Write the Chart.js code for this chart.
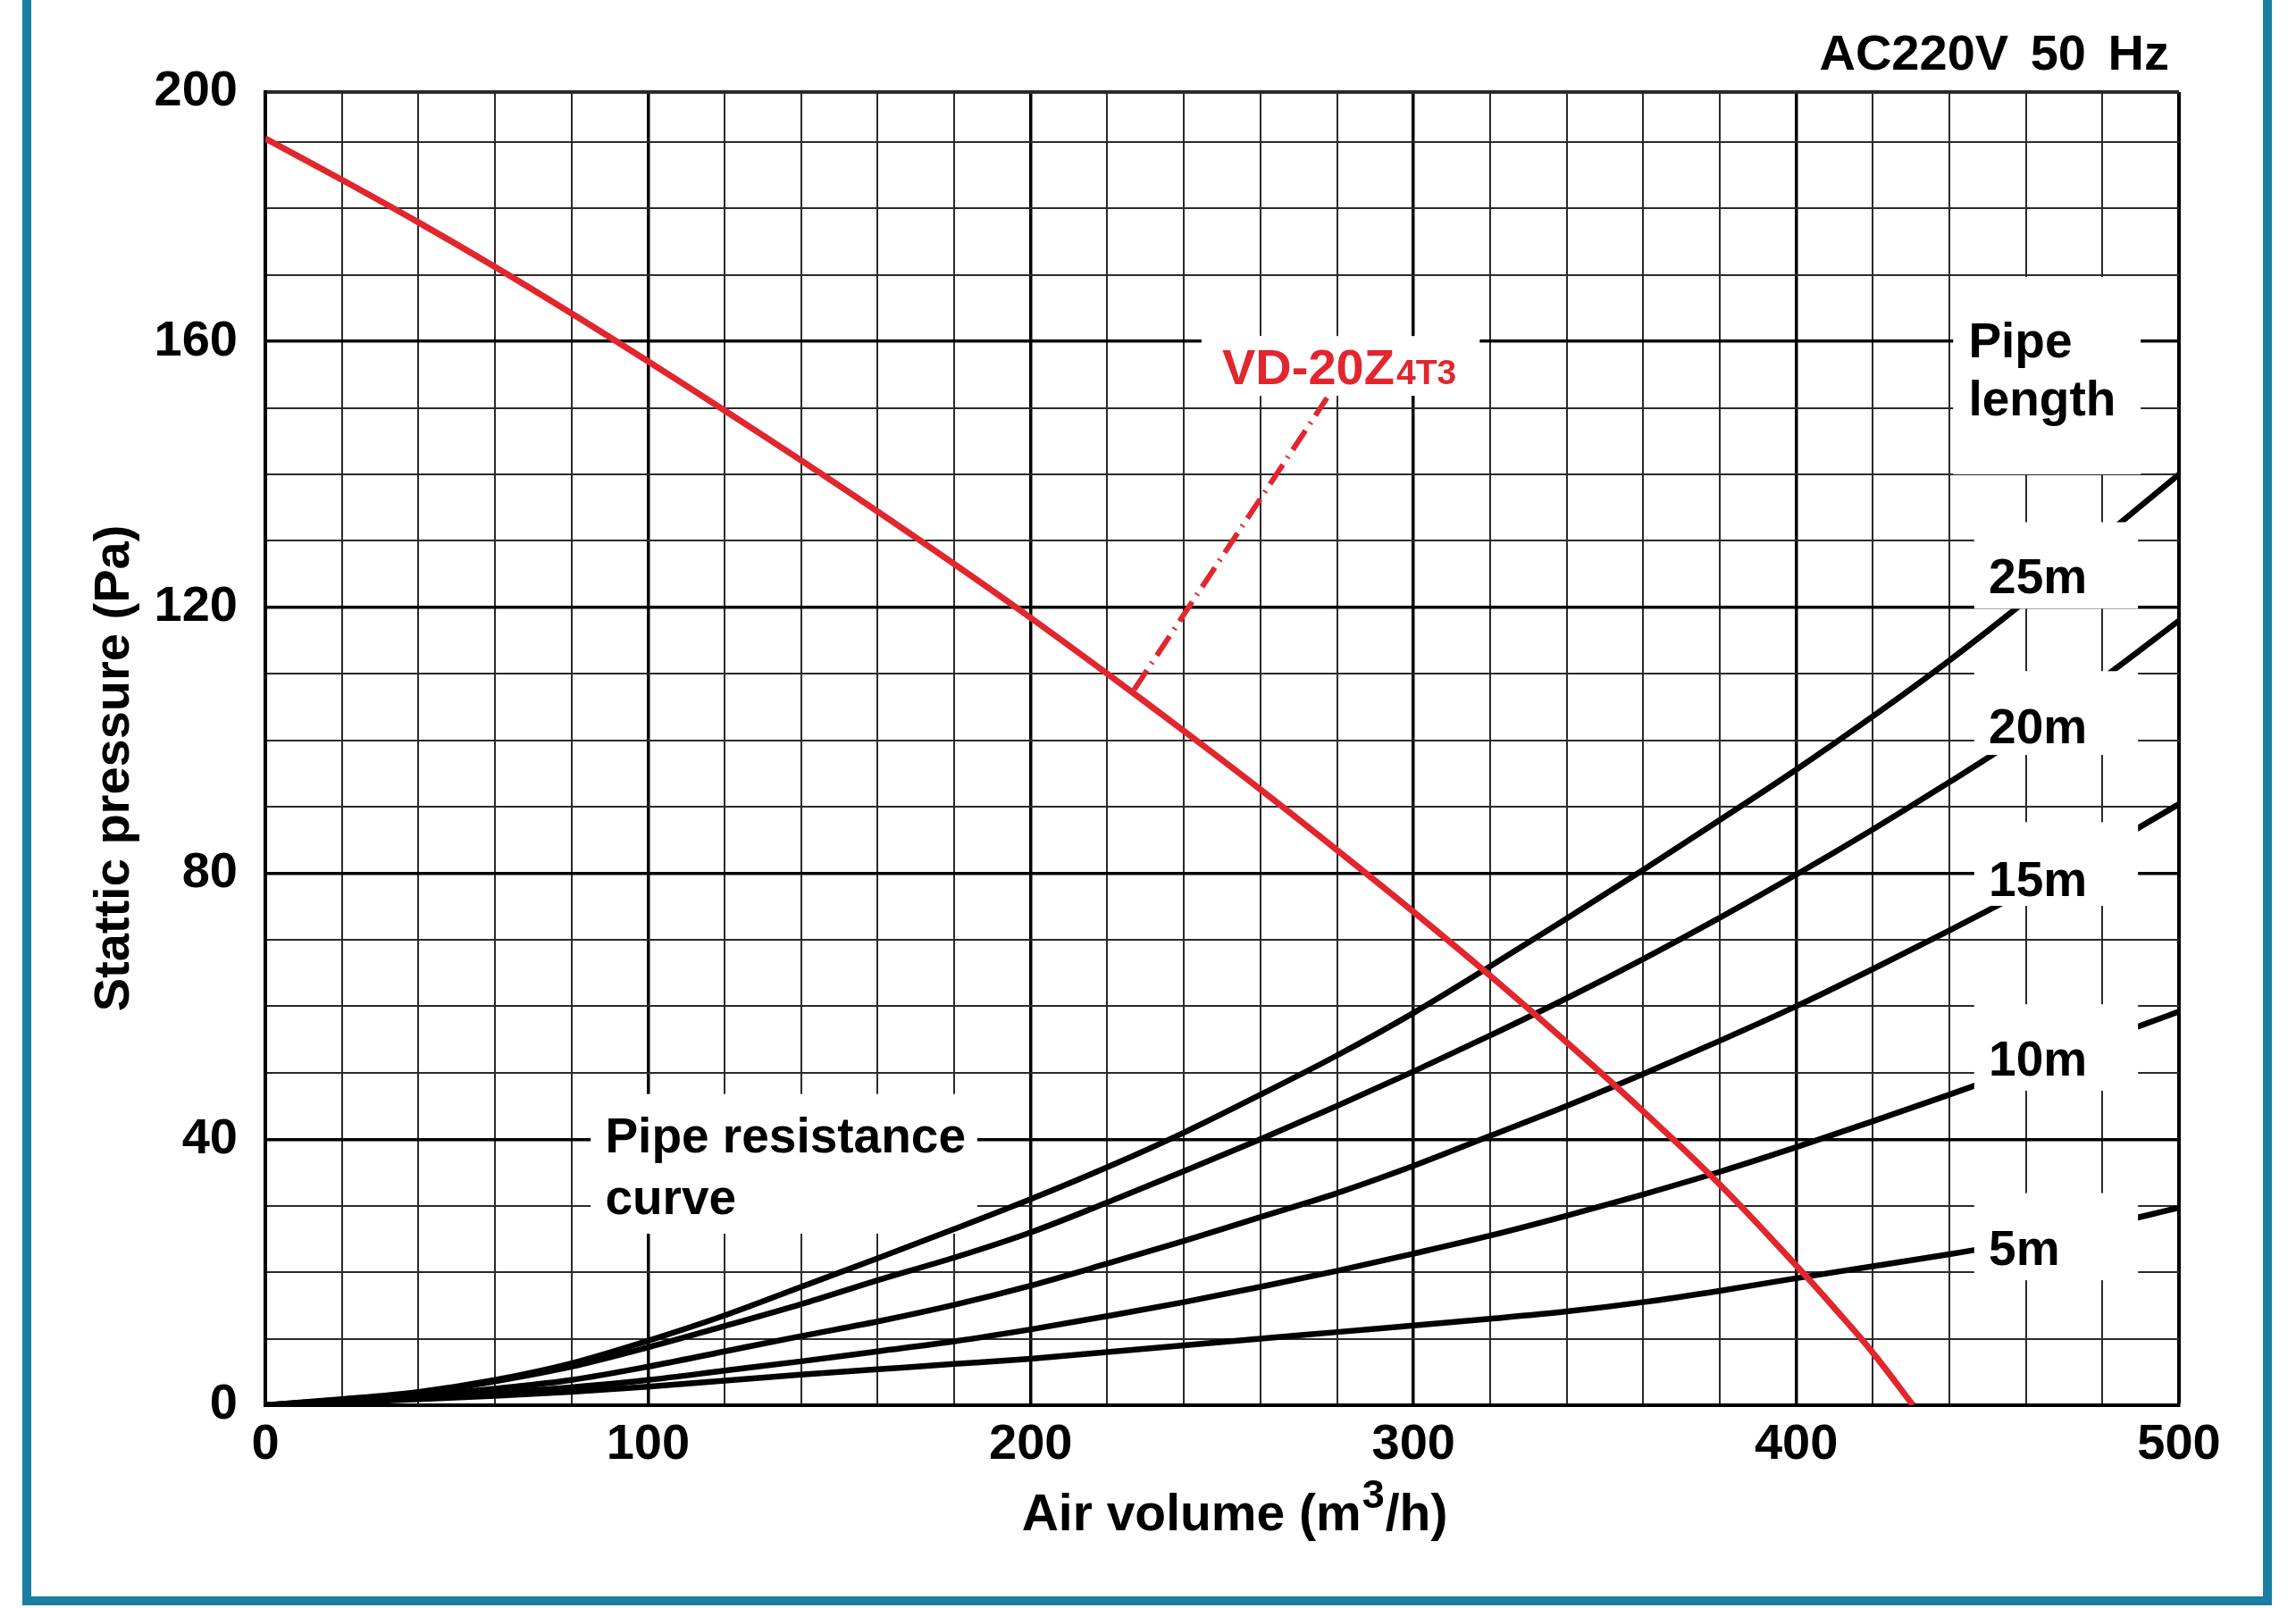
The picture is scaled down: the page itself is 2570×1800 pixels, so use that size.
<!DOCTYPE html>
<html lang="en">
<head>
<meta charset="UTF-8">
<title>VD-20Z4T3 static pressure curve</title>
<script src="https://cdn.jsdelivr.net/npm/chart.js"></script>
<style>
    html, body { margin: 0; padding: 0; background: #fff; }
    #wrap { position: relative; width: 2570px; height: 1800px; }
</style>
</head>
<body>
<div id="wrap"><canvas id="pqChart" width="2570" height="1800"></canvas></div>
<script>
    // air volume (m3/h) shared by the pipe resistance curves
    const airVolume = [0, 20, 40, 60, 80, 100, 120, 140, 160, 180, 200, 220, 240, 260, 280, 300, 320, 340, 360, 380, 400, 420, 440, 460, 480, 500];
    const pipe25m = [0, 0.9, 2, 3.8, 6.3, 9.7, 13.5, 17.8, 22.1, 26.5, 31, 35.8, 41, 46.7, 52.6, 59, 66, 73.2, 80.5, 88, 95.6, 103.6, 112, 121, 130.5, 140];
    const pipe20m = [0, 0.8, 1.8, 3.6, 5.8, 8.7, 11.9, 15.2, 18.8, 22.2, 26, 30.5, 35.2, 40, 45, 50.2, 55.6, 61.2, 67.1, 73.3, 79.8, 86.6, 93.7, 101.1, 109.3, 118];
    const pipe15m = [0, 0.6, 1.4, 2.5, 3.8, 5.8, 8.1, 10.4, 12.6, 15.1, 18, 21.3, 24.7, 28.3, 31.9, 36, 40.5, 45, 49.8, 54.8, 60, 65.6, 71.4, 77.4, 83.7, 90.4];
    const pipe10m = [0, 0.5, 1.1, 1.8, 2.7, 3.8, 5.2, 6.6, 8.1, 9.6, 11.4, 13.4, 15.5, 17.8, 20.2, 22.8, 25.5, 28.5, 31.7, 35.1, 38.8, 42.7, 46.7, 50.8, 55, 59.2];
    const pipe5m = [0, 0.4, 0.9, 1.4, 2, 2.8, 3.7, 4.6, 5.4, 6.2, 7, 8, 9, 10, 11, 12, 13, 14.1, 15.5, 17.2, 19.1, 20.9, 22.7, 24.7, 27, 29.7];

    // fan curve VD-20Z4T3
    const fanVolume = [0, 20, 40, 60, 80, 100, 120, 140, 160, 180, 200, 220, 240, 260, 280, 300, 320, 340, 360, 380, 400, 410, 420, 430.5];
    const fanPressure = [190.5, 184.3, 177.9, 171.2, 164.2, 157, 149.6, 142.1, 134.4, 126.5, 118.4, 110, 101.4, 92.6, 83.5, 74.2, 64.6, 54.6, 44.2, 33.2, 21, 14.6, 7.9, 0];

    // leader from the fan curve to its name
    const leaderVolume = [227, 277.4];
    const leaderPressure = [107.6, 151.5];

    const xTickLabels = [0, 100, 200, 300, 400, 500];
    const yTickLabels = [0, 40, 80, 120, 160, 200];
    const yTop = 197.5; // the printed "200" sits on a short top row

    const FONT = '"Liberation Sans", Arial, Helvetica, sans-serif';
    const RED = '#e1262d';
    const TEAL = '#1b7ea3';

    const toPoints = (xs, ys) => xs.map((x, i) => ({ x: x, y: ys[i] }));

    // white label patches, in axis units
    const underBoxes = [
        { x0: 85, x1: 186, y0: 25.8, y1: 46.8 },
        { x0: 244.6, x1: 317.3, y0: 151.8, y1: 160.8 }
    ];
    const overBoxes = [
        { x0: 441, x1: 490, y0: 140, y1: 169.7 },
        { x0: 446.5, x1: 489.3, y0: 119.8, y1: 132.8 },
        { x0: 446.5, x1: 489.3, y0: 97.8, y1: 110.4 },
        { x0: 446.5, x1: 489.3, y0: 75.1, y1: 87.7 },
        { x0: 446.5, x1: 489.3, y0: 47.3, y1: 60.3 },
        { x0: 446.5, x1: 489.3, y0: 18.8, y1: 31.9 }
    ];
    const blackLabels = [
        { text: 'Pipe', x: 445, y: 160.3 },
        { text: 'length', x: 445, y: 151.5 },
        { text: '25m', x: 450.3, y: 124.8 },
        { text: '20m', x: 450.3, y: 102.2 },
        { text: '15m', x: 450.3, y: 79.2 },
        { text: '10m', x: 450.3, y: 52.2 },
        { text: '5m', x: 450.3, y: 23.7 },
        { text: 'Pipe resistance', x: 88.8, y: 40.7 },
        { text: 'curve', x: 88.8, y: 31.4 }
    ];

    const capText = (ctx, text, px, pyCenter, size, color) => {
        ctx.font = `bold ${size}px ${FONT}`;
        ctx.fillStyle = color;
        ctx.textAlign = 'left';
        ctx.textBaseline = 'alphabetic';
        ctx.fillText(text, px, pyCenter + size * 0.358);
    };

    const whiteBox = (chart, b) => {
        const { x, y } = chart.scales;
        const left = x.getPixelForValue(b.x0), right = x.getPixelForValue(b.x1);
        const top = y.getPixelForValue(b.y1), bottom = y.getPixelForValue(b.y0);
        chart.ctx.fillStyle = '#fff';
        chart.ctx.fillRect(left, top, right - left, bottom - top);
    };

    const annotations = {
        id: 'annotations',
        beforeDatasetsDraw(chart) {
            underBoxes.forEach(b => whiteBox(chart, b));
        },
        afterDatasetsDraw(chart) {
            const ctx = chart.ctx;
            const { x, y } = chart.scales;
            ctx.save();
            overBoxes.forEach(b => whiteBox(chart, b));
            blackLabels.forEach(l => capText(ctx, l.text, x.getPixelForValue(l.x), y.getPixelForValue(l.y), 55, '#000'));

            // model name with subscript suffix
            const nx = x.getPixelForValue(250);
            const base = y.getPixelForValue(153.5);
            ctx.fillStyle = RED;
            ctx.textAlign = 'left';
            ctx.textBaseline = 'alphabetic';
            ctx.font = `bold 56px ${FONT}`;
            ctx.fillText('VD-20Z', nx, base);
            const w = ctx.measureText('VD-20Z').width;
            ctx.font = `bold 39px ${FONT}`;
            ctx.fillText('4T3', nx + w + 2, base);
            ctx.restore();
        },
        afterDraw(chart) {
            const ctx = chart.ctx;
            const area = chart.chartArea;
            ctx.save();
            ctx.fillStyle = '#000';

            // header
            ctx.font = `bold 56px ${FONT}`;
            ctx.textAlign = 'right';
            ctx.textBaseline = 'alphabetic';
            ctx.wordSpacing = '9px';
            ctx.fillText('AC220V 50 Hz', 2428, 78);
            ctx.wordSpacing = '0px';

            // x title with superscript
            const partA = 'Air volume (m', sup = '3', partB = '/h)';
            ctx.font = `bold 57px ${FONT}`;
            const wa = ctx.measureText(partA).width, wb = ctx.measureText(partB).width;
            ctx.font = `bold 45px ${FONT}`;
            const ws = ctx.measureText(sup).width;
            const cx = (area.left + area.right) / 2 + 14;
            let tx = cx - (wa + ws + wb + 2) / 2;
            const tBase = 1713;
            ctx.textAlign = 'left';
            ctx.font = `bold 57px ${FONT}`;
            ctx.fillText(partA, tx, tBase);
            tx += wa + 1;
            ctx.font = `bold 45px ${FONT}`;
            ctx.fillText(sup, tx, tBase - 25);
            tx += ws + 1;
            ctx.font = `bold 57px ${FONT}`;
            ctx.fillText(partB, tx, tBase);

            // y title
            ctx.font = `bold 56px ${FONT}`;
            ctx.translate(124, (area.top + area.bottom) / 2 + 22);
            ctx.rotate(-Math.PI / 2);
            ctx.textAlign = 'center';
            ctx.textBaseline = 'alphabetic';
            ctx.fillText('Stattic pressure (Pa)', 0, 20);
            ctx.setTransform(1, 0, 0, 1, 0, 0);

            // teal frame (open at the top)
            ctx.fillStyle = TEAL;
            ctx.fillRect(25, 0, 10, 1797);
            ctx.fillRect(2533, 0, 10, 1797);
            ctx.fillRect(25, 1787, 2518, 10);
            ctx.restore();
        }
    };

    const tickFont = { family: FONT, size: 56, weight: 'bold' };

    const curve = (label, xs, ys, color, width) => ({
        label: label,
        data: toPoints(xs, ys),
        borderColor: color,
        borderWidth: width,
        pointRadius: 0,
        fill: false,
        cubicInterpolationMode: 'monotone'
    });

    new Chart(document.getElementById('pqChart'), {
        type: 'line',
        data: {
            datasets: [
                Object.assign(curve('VD-20Z4T3', fanVolume, fanPressure, RED, 7), { cubicInterpolationMode: 'default', tension: 0.4 }),
                {
                    label: 'leader',
                    data: toPoints(leaderVolume, leaderPressure),
                    borderColor: RED,
                    borderWidth: 6,
                    borderDash: [26, 9, 2, 9],
                    pointRadius: 0,
                    fill: false
                },
                curve('25m', airVolume, pipe25m, '#000', 6.5),
                curve('20m', airVolume, pipe20m, '#000', 6.5),
                curve('15m', airVolume, pipe15m, '#000', 6.5),
                curve('10m', airVolume, pipe10m, '#000', 6.5),
                curve('5m', airVolume, pipe5m, '#000', 6.5)
            ]
        },
        options: {
            responsive: false,
            animation: false,
            devicePixelRatio: 1,
            layout: { padding: { left: 0, right: 131, top: 103, bottom: 0 } },
            plugins: {
                legend: { display: false },
                tooltip: { enabled: false }
            },
            scales: {
                x: {
                    type: 'linear',
                    min: 0,
                    max: 500,
                    afterFit: scale => { scale.height = 227; },
                    ticks: {
                        stepSize: 20,
                        autoSkip: false,
                        maxRotation: 0,
                        padding: 11,
                        color: '#000',
                        font: tickFont,
                        callback: v => xTickLabels.includes(v) ? String(v) : ''
                    },
                    grid: {
                        drawTicks: false,
                        color: ctx => ctx.tick && ctx.tick.value % 100 === 0 ? '#000' : '#2a2a2a',
                        lineWidth: ctx => {
                            const v = ctx.tick ? ctx.tick.value : 0;
                            if (v === 500) return 4;
                            return v % 100 === 0 ? 3.5 : 2;
                        }
                    },
                    border: { display: true, color: '#000', width: 4 }
                },
                y: {
                    type: 'linear',
                    min: 0,
                    max: yTop,
                    afterFit: scale => { scale.width = 297; },
                    afterBuildTicks: scale => {
                        const t = [];
                        for (let v = 0; v < yTop; v += 10) t.push({ value: v });
                        t.push({ value: yTop });
                        scale.ticks = t;
                    },
                    ticks: {
                        autoSkip: false,
                        padding: 31,
                        color: '#000',
                        font: tickFont,
                        callback: v => {
                            if (v === yTop) return String(yTickLabels[yTickLabels.length - 1]);
                            return yTickLabels.includes(v) ? String(v) : '';
                        }
                    },
                    grid: {
                        drawTicks: false,
                        color: ctx => ctx.tick && ctx.tick.value % 40 === 0 ? '#000' : '#2a2a2a',
                        lineWidth: ctx => {
                            const v = ctx.tick ? ctx.tick.value : 0;
                            if (v === yTop) return 4;
                            return v % 40 === 0 ? 3.5 : 2;
                        }
                    },
                    border: { display: true, color: '#000', width: 4 }
                }
            }
        },
        plugins: [annotations]
    });
</script>
</body>
</html>
